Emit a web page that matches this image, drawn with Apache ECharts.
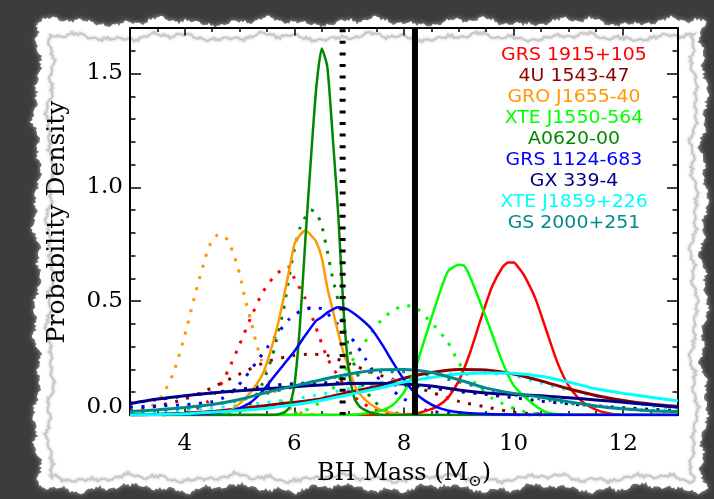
<!DOCTYPE html>
<html>
<head>
<meta charset="utf-8">
<script src="https://cdn.jsdelivr.net/npm/echarts@6/dist/echarts.min.js"></script>
<style>
  html, body { margin: 0; padding: 0; background: #3c3c3c; }
  #chart { width: 714px; height: 499px; }
</style>
</head>
<body>
<div id="chart"></div>
<script>
// ---- Axis ticks ----
const xMajorTicks = [4, 6, 8, 10, 12];
const xMinorTicks = [3.5, 4.5, 5, 5.5, 6.5, 7, 7.5, 8.5, 9, 9.5, 10.5, 11, 11.5, 12.5];
const yMajorTicks = [0, 0.5, 1.0, 1.5];
const yMinorTicks = [0.1, 0.2, 0.3, 0.4, 0.6, 0.7, 0.8, 0.9, 1.1, 1.2, 1.3, 1.4, 1.6];

// ---- Reference mass markers (solar masses) ----
const dottedMarkerMass = 6.88;
const solidMarkerMass = 8.2;

// ---- Sources, in legend order ----
const sourceNames = ['GRS 1915+105', '4U 1543-47', 'GRO J1655-40', 'XTE J1550-564', 'A0620-00',
                     'GRS 1124-683', 'GX 339-4', 'XTE J1859+226', 'GS 2000+251'];
const sourceColors = ['#ff0000', '#8c0000', '#ff9900', '#00ff00', '#008800',
                      '#0000ff', '#000088', '#00ffff', '#008b8b'];

// ---- Probability densities: [mass, density] ----
const grs1915Solid = [[3,0],[7.6,0],[8.0,0.002],[8.2,0.005],[8.4,0.018],[8.6,0.037],[8.8,0.075],[9.0,0.15],[9.2,0.27],[9.4,0.42],[9.6,0.56],[9.8,0.65],[9.9,0.67],[10.0,0.67],[10.1,0.645],[10.2,0.61],[10.4,0.51],[10.6,0.37],[10.8,0.23],[11.0,0.13],[11.2,0.07],[11.4,0.035],[11.6,0.015],[11.8,0.005],[12.0,0],[13,0]];
const grs1915Dotted = [[3.6,0],[4.0,0.01],[4.2,0.025],[4.4,0.055],[4.6,0.11],[4.8,0.2],[5.0,0.31],[5.2,0.425],[5.4,0.53],[5.6,0.6],[5.8,0.645],[5.9,0.65],[6.0,0.6],[6.2,0.51],[6.4,0.38],[6.6,0.25],[6.8,0.17],[7.0,0.1],[7.2,0.06],[7.4,0.03],[7.6,0.015],[7.8,0.005],[8.0,0]];

const u1543Solid = [[3,0],[3.5,0.003],[4,0.008],[4.5,0.015],[5,0.028],[5.5,0.042],[6,0.056],[6.5,0.072],[7,0.1],[7.5,0.125],[8,0.162],[8.5,0.187],[9,0.2],[9.5,0.198],[10,0.18],[10.5,0.15],[11,0.115],[11.5,0.086],[12,0.064],[12.5,0.048],[13,0.037]];
const u1543Dotted = [[3,0.02],[3.5,0.04],[4,0.07],[4.5,0.12],[5,0.18],[5.5,0.235],[6,0.262],[6.3,0.267],[6.6,0.262],[7,0.225],[7.5,0.18],[8,0.14],[8.5,0.1],[9,0.06],[9.5,0.035],[10,0.012],[10.5,0.004],[11,0]];

const gro1655Solid = [[3,0],[4.6,0],[4.8,0.015],[5.0,0.05],[5.2,0.1],[5.4,0.17],[5.5,0.23],[5.6,0.31],[5.7,0.4],[5.8,0.51],[5.9,0.63],[6.0,0.75],[6.1,0.79],[6.2,0.81],[6.3,0.79],[6.4,0.76],[6.5,0.69],[6.6,0.56],[6.7,0.46],[6.8,0.36],[6.9,0.27],[7.0,0.2],[7.1,0.13],[7.2,0.09],[7.4,0.045],[7.6,0.02],[7.8,0.008],[8.0,0],[13,0]];
const gro1655Dotted = [[3.0,0.005],[3.2,0.015],[3.4,0.04],[3.6,0.09],[3.8,0.19],[4.0,0.35],[4.2,0.54],[4.4,0.71],[4.5,0.77],[4.6,0.79],[4.7,0.79],[4.8,0.76],[4.9,0.7],[5.0,0.62],[5.1,0.51],[5.2,0.42],[5.3,0.32],[5.4,0.24],[5.5,0.17],[5.6,0.12],[5.8,0.05],[6.0,0.02],[6.2,0.005],[6.4,0]];

const xte1550Solid = [[3,0],[7.0,0],[7.4,0.01],[7.6,0.02],[7.8,0.045],[8.0,0.1],[8.2,0.2],[8.4,0.35],[8.6,0.5],[8.8,0.63],[9.0,0.66],[9.1,0.655],[9.2,0.61],[9.4,0.49],[9.6,0.36],[9.8,0.23],[10.0,0.13],[10.2,0.08],[10.4,0.04],[10.6,0.012],[10.8,0.003],[11.0,0],[13,0]];
const xte1550Dotted = [[5.8,0],[6.0,0.006],[6.2,0.02],[6.4,0.045],[6.6,0.085],[6.8,0.15],[7.0,0.22],[7.2,0.29],[7.4,0.36],[7.6,0.42],[7.8,0.46],[8.0,0.48],[8.2,0.475],[8.4,0.43],[8.6,0.38],[8.8,0.32],[9.0,0.23],[9.2,0.165],[9.4,0.115],[9.6,0.075],[9.8,0.05],[10.0,0.03],[10.2,0.015],[10.4,0.006],[10.6,0]];

const a0620Solid = [[3,0],[5.6,0],[5.8,0.01],[5.9,0.03],[6.0,0.13],[6.1,0.39],[6.2,0.77],[6.3,1.12],[6.4,1.44],[6.5,1.61],[6.6,1.53],[6.7,1.22],[6.8,0.88],[6.9,0.45],[7.0,0.18],[7.1,0.07],[7.2,0.035],[7.4,0.01],[7.6,0],[13,0]];
const a0620Dotted = [[4.8,0],[5.0,0.015],[5.2,0.05],[5.4,0.13],[5.5,0.19],[5.6,0.26],[5.7,0.36],[5.8,0.46],[5.9,0.6],[6.0,0.73],[6.1,0.82],[6.2,0.87],[6.3,0.9],[6.4,0.89],[6.5,0.83],[6.6,0.72],[6.7,0.6],[6.8,0.5],[6.9,0.39],[7.0,0.29],[7.2,0.15],[7.4,0.075],[7.6,0.03],[7.8,0.01],[8.2,0]];

const grs1124Solid = [[3,0.001],[4,0.003],[4.5,0.008],[4.8,0.016],[5.0,0.03],[5.2,0.055],[5.4,0.1],[5.6,0.16],[5.8,0.22],[6.0,0.28],[6.2,0.35],[6.4,0.415],[6.5,0.43],[6.6,0.45],[6.8,0.473],[6.9,0.47],[7.0,0.46],[7.2,0.425],[7.4,0.38],[7.6,0.31],[7.8,0.23],[8.0,0.155],[8.2,0.097],[8.4,0.06],[8.6,0.035],[8.8,0.02],[9.0,0.012],[9.4,0.005],[10,0.002],[13,0]];
const grs1124Dotted = [[3,0.035],[3.5,0.04],[4,0.045],[4.5,0.058],[4.7,0.075],[4.9,0.11],[5.1,0.165],[5.3,0.23],[5.5,0.295],[5.7,0.36],[5.9,0.42],[6.1,0.455],[6.3,0.47],[6.5,0.468],[6.7,0.42],[6.9,0.37],[7.1,0.32],[7.3,0.245],[7.5,0.17],[7.7,0.125],[7.9,0.088],[8.1,0.055],[8.3,0.03],[8.5,0.015],[8.9,0.007],[9.5,0.003],[10.5,0]];

const gx339Solid = [[3,0.05],[3.5,0.07],[4,0.085],[4.5,0.097],[5,0.107],[5.5,0.115],[6,0.124],[6.5,0.132],[7,0.138],[7.5,0.14],[8,0.136],[8.5,0.127],[9,0.11],[9.5,0.097],[10,0.09],[10.5,0.085],[11,0.076],[11.5,0.066],[12,0.056],[12.5,0.045],[13,0.034]];
const gx339Dotted = [[3,0.052],[3.5,0.068],[4,0.083],[4.5,0.098],[5,0.113],[5.5,0.128],[6,0.138],[6.5,0.142],[7,0.14],[7.5,0.136],[8,0.13],[8.5,0.118],[9,0.103],[9.5,0.09],[10,0.076],[10.5,0.061],[11,0.049],[11.5,0.04],[12,0.032],[12.5,0.025],[13,0.02]];

const xte1859Solid = [[3,0],[3.5,0.002],[4,0.005],[4.5,0.012],[5,0.02],[5.5,0.03],[6,0.045],[6.5,0.065],[7,0.09],[7.5,0.115],[8,0.145],[8.5,0.165],[9,0.18],[9.5,0.185],[10,0.183],[10.5,0.17],[11,0.145],[11.5,0.115],[12,0.095],[12.5,0.078],[13,0.062]];
const xte1859Dotted = [[3,0.005],[3.5,0.012],[4,0.02],[4.5,0.03],[5,0.042],[5.5,0.055],[6,0.07],[6.5,0.092],[7,0.115],[7.5,0.14],[8,0.16],[8.5,0.175],[9,0.182],[9.5,0.183],[10,0.172],[10.5,0.14],[11,0.11],[11.5,0.083],[12,0.06],[12.5,0.04],[13,0.025]];

const gs2000Solid = [[3,0.015],[3.5,0.023],[4,0.033],[4.5,0.046],[5,0.068],[5.5,0.1],[6,0.128],[6.5,0.155],[7,0.18],[7.5,0.198],[8,0.2],[8.5,0.187],[9,0.155],[9.5,0.118],[10,0.095],[10.5,0.078],[11,0.058],[11.5,0.04],[12,0.027],[12.5,0.019],[13,0.015]];
const gs2000Dotted = [[3,0.012],[3.5,0.02],[4,0.03],[4.5,0.045],[5,0.065],[5.5,0.095],[6,0.125],[6.5,0.155],[7,0.178],[7.5,0.19],[8,0.19],[8.5,0.175],[9,0.145],[9.5,0.115],[10,0.09],[10.5,0.07],[11,0.052],[11.5,0.038],[12,0.027],[12.5,0.019],[13,0.014]];

const solidCurves = [grs1915Solid, u1543Solid, gro1655Solid, xte1550Solid, a0620Solid,
                     grs1124Solid, gx339Solid, xte1859Solid, gs2000Solid];
const dottedCurves = [grs1915Dotted, u1543Dotted, gro1655Dotted, xte1550Dotted, a0620Dotted,
                      grs1124Dotted, gx339Dotted, xte1859Dotted, gs2000Dotted];

// ---- Layout ----
const GRID = { left: 130, top: 28, right: 714 - 678, bottom: 499 - 415 };
const SERIF = 'DejaVu Serif';

// ---- Torn-paper backdrop ----
function wobble(t, k) {
  return 2.0 * Math.sin(t * 0.061 + k) + 1.3 * Math.sin(t * 0.173 + 2.3 * k) +
         0.9 * Math.sin(t * 0.53 + 0.7 * k) + 0.7 * Math.sin(t * 1.37 + 1.9 * k) +
         0.5 * Math.sin(t * 2.91 + 0.4 * k) + 0.4 * Math.sin(t * 4.73 + 3.1 * k);
}
function outline(x0, y0, x1, y1, amp, seed, step) {
  const pts = [];
  for (let x = x0; x <= x1; x += step) pts.push([x, y0 + amp * wobble(x, seed)]);
  for (let y = y0; y <= y1; y += step) pts.push([x1 + amp * wobble(y, seed + 1), y]);
  for (let x = x1; x >= x0; x -= step) pts.push([x, y1 + amp * wobble(x, seed + 2)]);
  for (let y = y1; y >= y0; y -= step) pts.push([x0 + amp * wobble(y, seed + 3), y]);
  return pts;
}

const series = [];
dottedCurves.forEach((d, i) => series.push({
  type: 'line', name: sourceNames[i], data: d, showSymbol: false,
  smooth: 0.2, z: 2,
  lineStyle: { color: sourceColors[i], width: 3, type: [3, 8.5], cap: 'butt' }
}));
solidCurves.forEach((d, i) => series.push({
  type: 'line', name: sourceNames[i], data: d, showSymbol: false,
  smooth: 0.2, z: 3,
  lineStyle: { color: sourceColors[i], width: (i === 6 || i === 7 || i === 8 || i === 1) ? 3 : 2.5 }
}));
series.push({
  type: 'line', data: [[dottedMarkerMass, 0], [dottedMarkerMass, 1.7]], showSymbol: false, z: 5,
  lineStyle: { color: '#000', width: 6, type: [3, 8.6], cap: 'butt' }
});
series.push({
  type: 'line', data: [[solidMarkerMass, 0], [solidMarkerMass, 1.7]], showSymbol: false, z: 5,
  lineStyle: { color: '#000', width: 6 }
});

function xAxisDef(position, ticks, len, withLine, withLabels) {
  return {
    type: 'value', min: 3, max: 13, position: position,
    axisLine: { show: withLine, onZero: false, lineStyle: { color: '#000', width: 2 } },
    axisTick: { show: true, inside: true, length: len, customValues: ticks, lineStyle: { color: '#000', width: 1.5 } },
    axisLabel: withLabels ? { show: true, customValues: ticks, margin: 18, color: '#000',
                              fontFamily: SERIF, fontSize: 23 } : { show: false },
    splitLine: { show: false }
  };
}
function yAxisDef(position, ticks, len, withLine, withLabels) {
  return {
    type: 'value', min: 0, max: 1.7, position: position,
    axisLine: { show: withLine, onZero: false, lineStyle: { color: '#000', width: 2 } },
    axisTick: { show: true, inside: true, length: len, customValues: ticks, lineStyle: { color: '#000', width: 1.5 } },
    axisLabel: withLabels ? {
      show: true, customValues: ticks, margin: 7, color: '#000', fontFamily: SERIF, fontSize: 23,
      formatter: v => v === 0 ? '{lift|0.0}' : v.toFixed(1),
      rich: { lift: { fontFamily: SERIF, fontSize: 23, color: '#000', padding: [0, 0, 15, 0] } }
    } : { show: false },
    splitLine: { show: false }
  };
}

const legendTexts = sourceNames.map((name, i) => ({
  type: 'text', x: 574, y: 55 + i * 21.1, z: 20, scaleX: 1.05,
  style: { text: name, fill: sourceColors[i], font: '18px "DejaVu Sans"', align: 'center', verticalAlign: 'middle' }
}));

const option = {
  backgroundColor: '#3c3c3c',
  animation: false,
  grid: GRID,
  xAxis: [
    xAxisDef('bottom', xMajorTicks, 7.5, true, true),
    xAxisDef('bottom', xMinorTicks, 4, false, false),
    xAxisDef('top', xMajorTicks, 7.5, true, false),
    xAxisDef('top', xMinorTicks, 4, false, false)
  ],
  yAxis: [
    yAxisDef('left', yMajorTicks, 11, true, true),
    yAxisDef('left', yMinorTicks, 5.5, false, false),
    yAxisDef('right', yMajorTicks, 11, true, false),
    yAxisDef('right', yMinorTicks, 5.5, false, false)
  ],
  series: series,
  graphic: [
    { type: 'polygon', z: -3, shape: { points: outline(37, 22, 704, 488, 1.4, 1, 2) },
      style: { fill: '#ffffff', shadowColor: 'rgba(190,190,190,0.9)', shadowBlur: 5 } },
    { type: 'polygon', z: -2, shape: { points: outline(50, 37, 694, 478, 1.2, 7, 2) },
      style: { fill: 'none', stroke: '#c8c8c8', lineWidth: 2, shadowColor: 'rgba(190,190,190,0.8)', shadowBlur: 3 } },
    { type: 'text', x: 57, y: 222, rotation: Math.PI / 2, z: 20,
      style: { text: 'Probability Density', fill: '#000', font: '25px "DejaVu Serif"', align: 'center', verticalAlign: 'middle' } },
    { type: 'text', x: 404, y: 474, z: 20,
      style: { text: '{a|BH Mass (M}{s|⊙}{a|)}', align: 'center', verticalAlign: 'middle',
               rich: { a: { fontFamily: SERIF, fontSize: 24, fill: '#000', color: '#000' },
                       s: { fontFamily: SERIF, fontSize: 16, fill: '#000', color: '#000', padding: [16, 0, 0, 0] } } } }
  ].concat(legendTexts)
};

const chart = echarts.init(document.getElementById('chart'));
chart.setOption(option);
</script>
</body>
</html>
